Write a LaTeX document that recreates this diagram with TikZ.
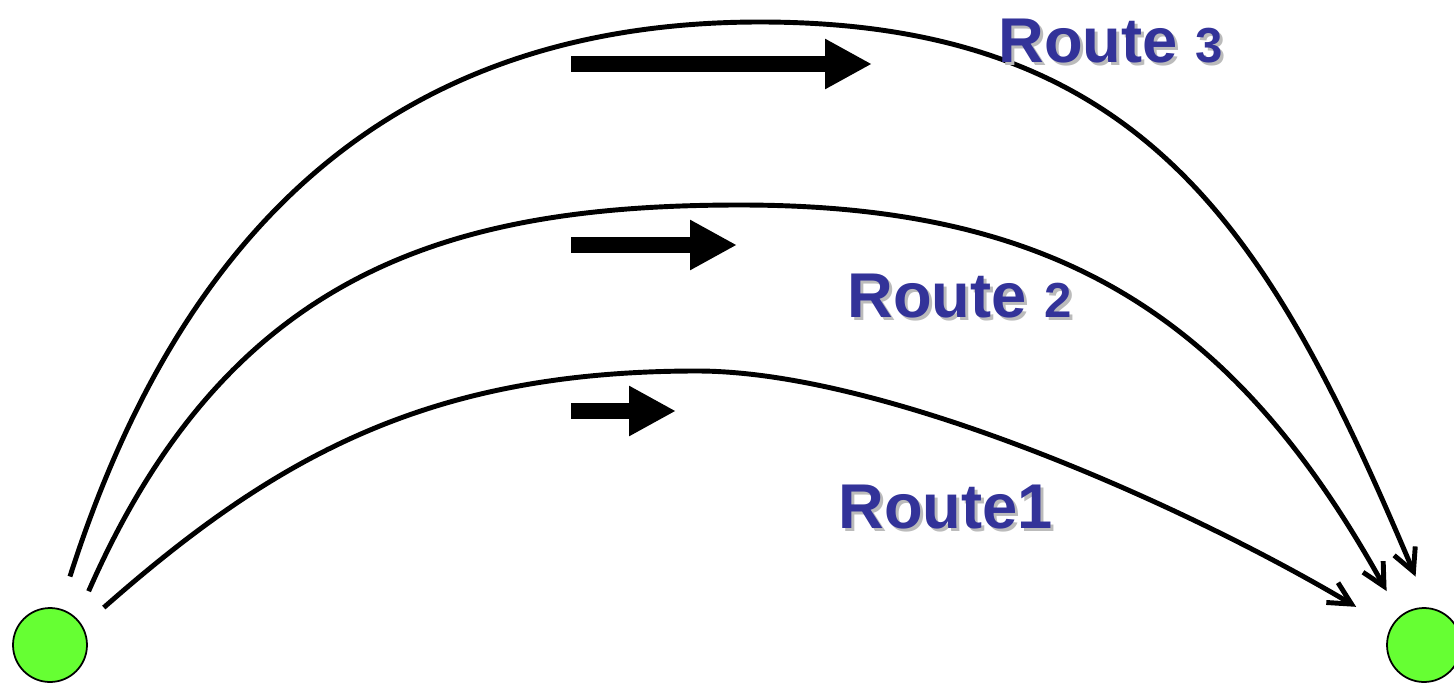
\documentclass[tikz,border=0pt]{standalone}
\usepackage{fontspec}
\setmainfont{Liberation Sans}
\usetikzlibrary{arrows.meta, positioning}
\definecolor{routeblue}{HTML}{333399}
\definecolor{sitegreen}{HTML}{66FF33}
\definecolor{shadowgray}{HTML}{BBBBBB}
\newcommand\rnum[1]{{\fontsize{28}{30}\selectfont #1}}

\begin{document}
\begin{tikzpicture}[x=0.02cm, y=-0.02cm,
    site/.style={circle, draw, line width=1pt, fill=sitegreen, minimum size=1.48cm, inner sep=0},
    route/.style={line width=2.8pt, -{Straight Barb[length=0.45cm, width=0.46cm]}},
    flow/.style={line width=0.32cm, -{Triangle[length=0.94cm, width=0.94cm]}},
    rlabel/.style={anchor=base west, inner sep=0, text=routeblue,
      font=\fontsize{36}{40}\selectfont\bfseries},
    rshadow/.style={rlabel, text=shadowgray}]
      \useasboundingbox (0,0) rectangle (1454,683);
      \node[site] (src) at (50,645) {};
      \node[site] (dst) at (1424,645) {};
      \coordinate (top1) at (697,371);
      \coordinate (top2) at (740,205);
      \coordinate (top3) at (760,22);
      \draw[route, shorten <=0.56cm, shorten >=0.8cm] (src.30) .. controls (277,455) and (430,371) .. (top1)
        .. controls (880,371) and (1176,500) .. (dst.152);
      \draw[route, shorten <=0.59cm, shorten >=0.56cm] (src.45) .. controls (229,271) and (450,205) .. (top2)
        .. controls (1050,205) and (1231,310) .. (dst.129);
      \draw[route, shorten <=0.67cm, shorten >=0.67cm] (src.75) .. controls (190,200) and (420,22) .. (top3)
        .. controls (1150,22) and (1273,240) .. (dst.83);
      \coordinate (f1a) at (571,411);
      \coordinate (f1b) at (676,411);
      \coordinate (f2a) at (571,245);
      \coordinate (f2b) at (737,245);
      \coordinate (f3a) at (571,64);
      \coordinate (f3b) at (872,64);
      \draw[flow] (f1a) -- (f1b);
      \draw[flow] (f2a) -- (f2b);
      \draw[flow] (f3a) -- (f3b);
      \node[rshadow] (r1s) at (841,531) {Route1};
      \node[rlabel] (r1) at (838,528) {Route1};
      \node[rshadow] (r2s) at (850,320) {Route \rnum{2}};
      \node[rlabel] (r2) at (847,317) {Route \rnum{2}};
      \node[rshadow] (r3s) at (1001,65) {Route \rnum{3}};
      \node[rlabel] (r3) at (998,62) {Route \rnum{3}};
    \end{tikzpicture}
\end{document}
